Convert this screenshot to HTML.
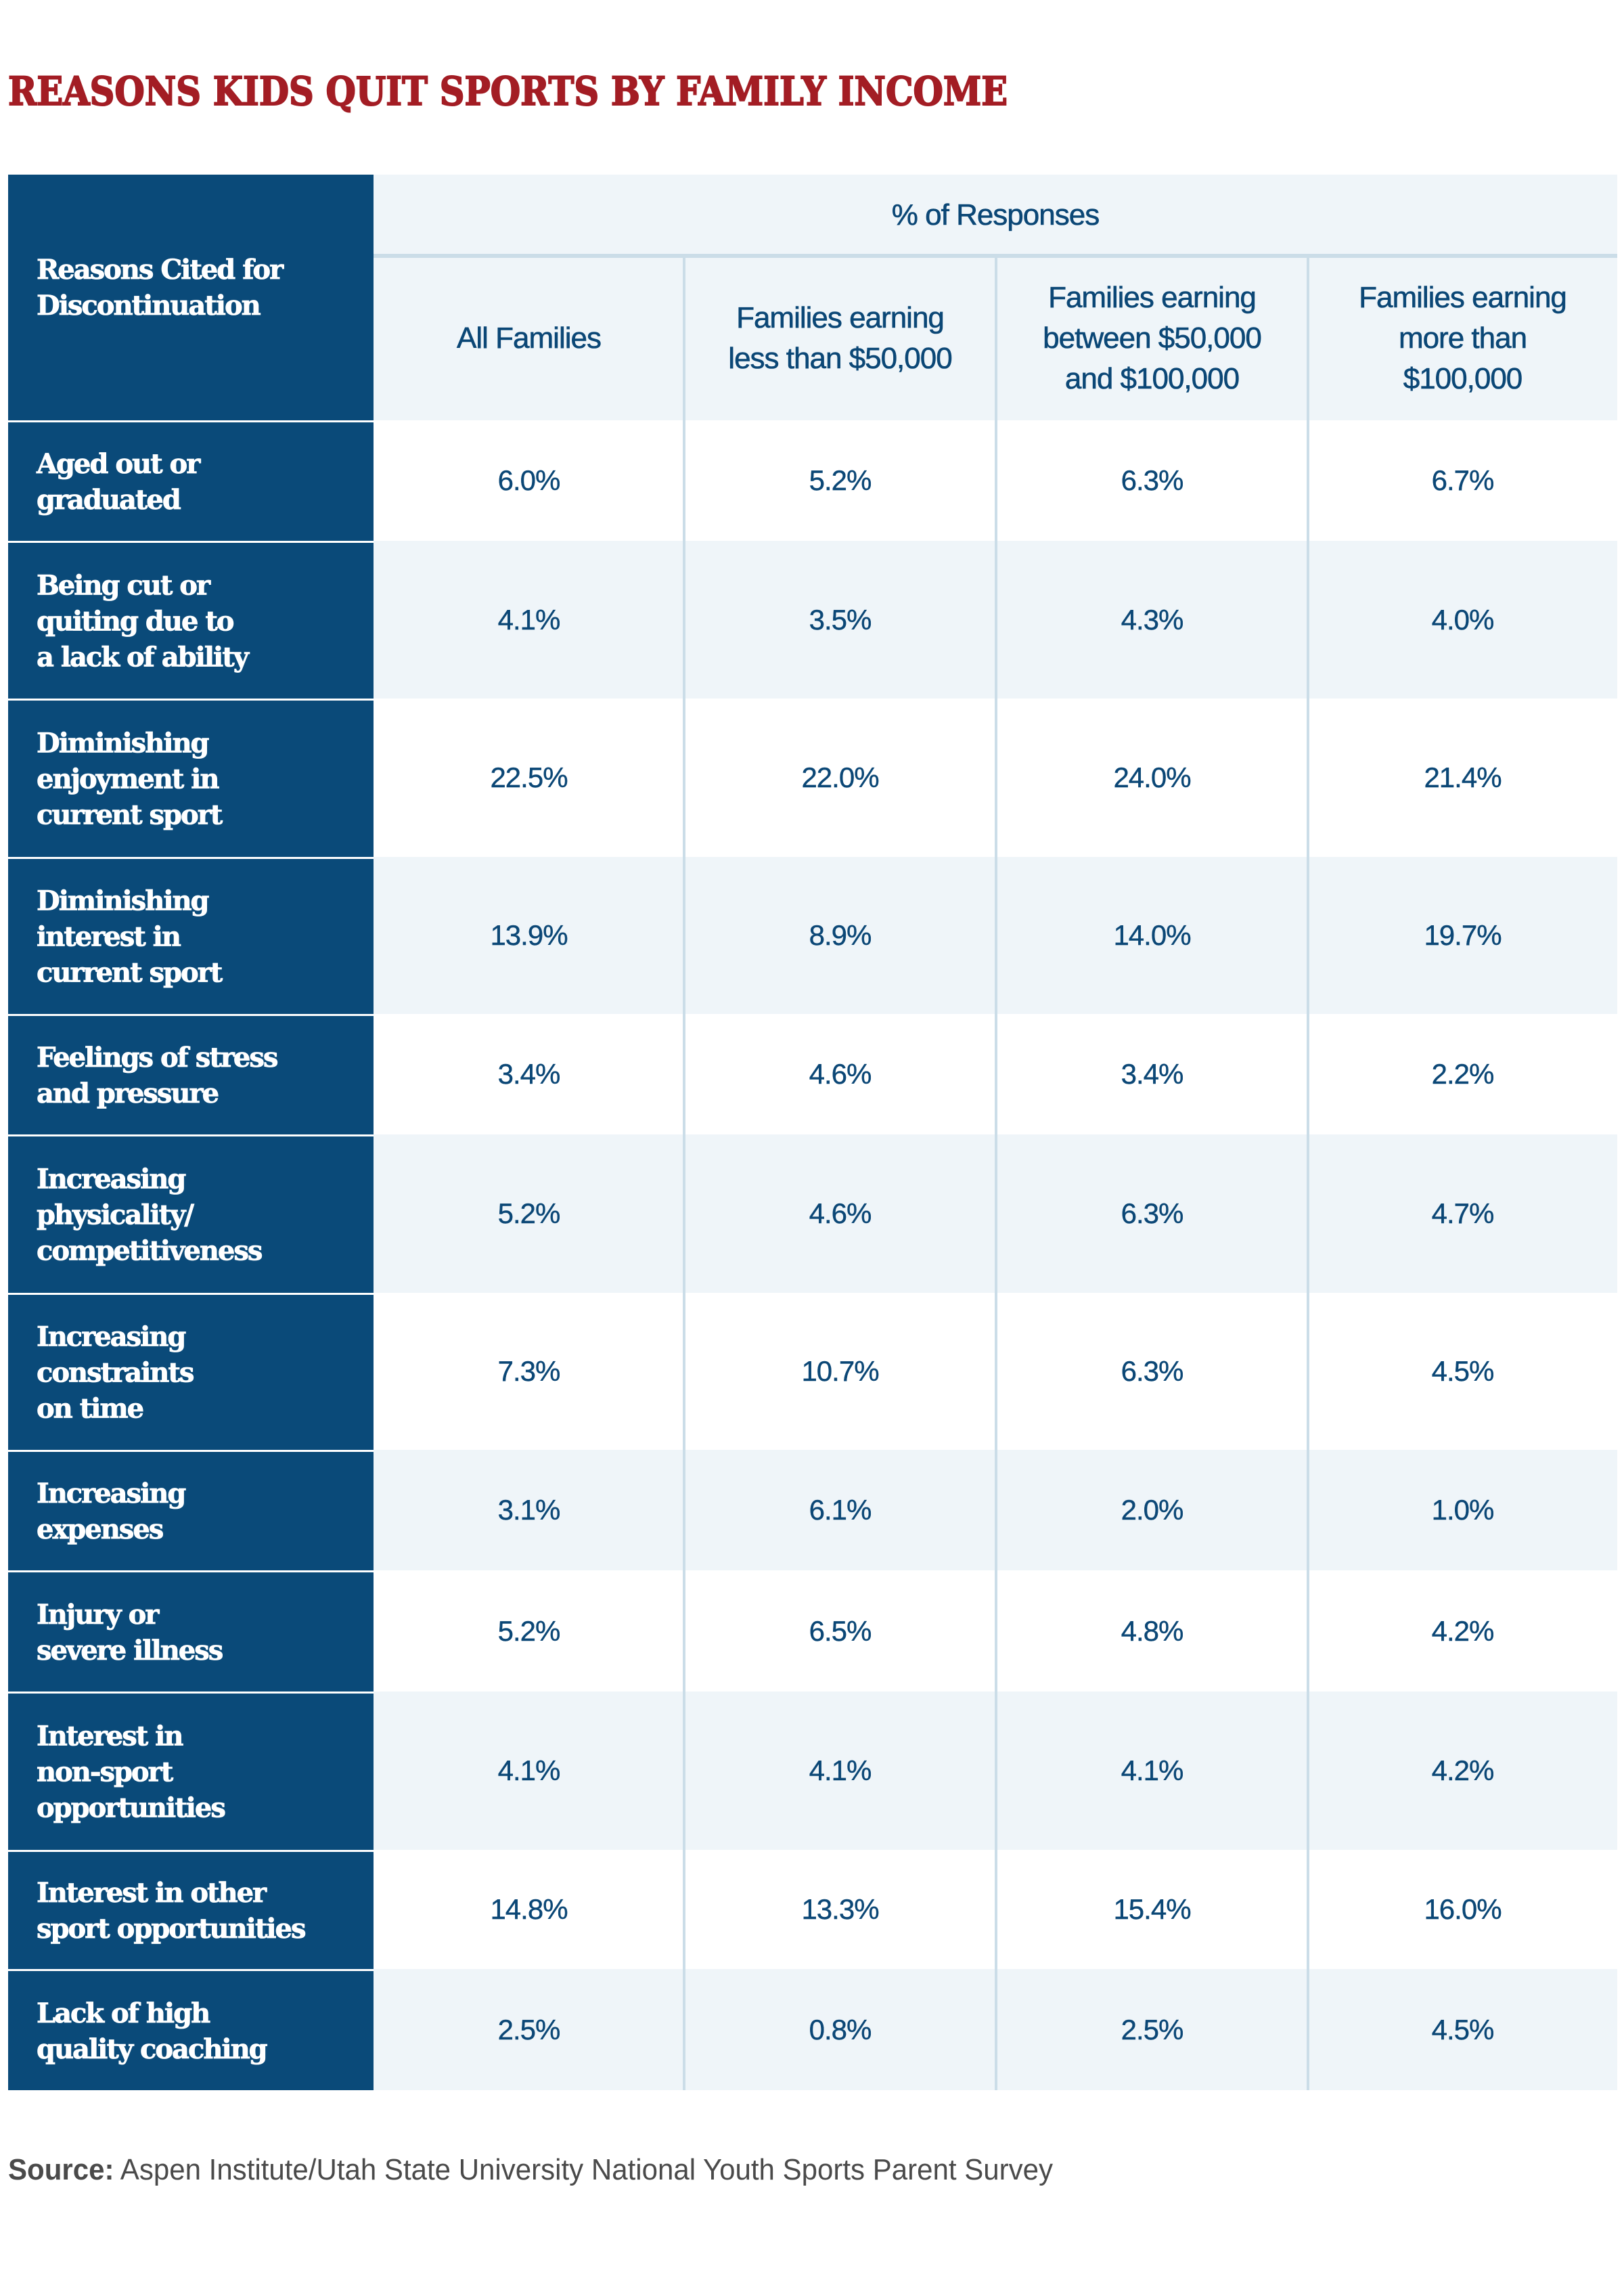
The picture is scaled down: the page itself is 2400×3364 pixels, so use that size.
<!DOCTYPE html>
<html><head><meta charset="utf-8">
<style>
html,body{margin:0;padding:0;background:#fff;}
#page{position:relative;width:2400px;height:3364px;overflow:hidden;background:#fff;font-family:"Liberation Sans",sans-serif;}
.abs{position:absolute;box-sizing:border-box;}
.lab{position:absolute;left:54px;color:#fff;font-family:"DejaVu Serif","Liberation Serif",serif;font-weight:bold;font-size:40px;line-height:53px;letter-spacing:-2px;white-space:nowrap;transform:translateY(-50%);-webkit-text-stroke:0.8px #fff;}
.val{position:absolute;color:#0b4776;font-size:42px;text-align:center;transform:translate(-50%,-50%);white-space:nowrap;letter-spacing:-1px;-webkit-text-stroke:0.4px #0b4776;}
.hdr{position:absolute;color:#0b4776;font-size:44px;line-height:60px;text-align:center;transform:translate(-50%,-50%);white-space:nowrap;letter-spacing:-1px;-webkit-text-stroke:0.6px #0b4776;}
</style></head>
<body>
<div id="page">
<svg class="abs" style="left:0;top:0" width="2400" height="200">
<text x="12" y="155" font-family="DejaVu Serif, Liberation Serif, serif" font-weight="bold" font-size="58" fill="#a31d24" stroke="#a31d24" stroke-width="2" textLength="1477" lengthAdjust="spacingAndGlyphs">REASONS KIDS QUIT SPORTS BY FAMILY INCOME</text>
</svg>
<div id="table" class="abs" style="left:0;top:0;width:2400px;height:3364px"></div>
<svg class="abs" style="left:0;top:3150px" width="2400" height="120">
<text x="12" y="70" font-family="Liberation Sans, sans-serif" font-size="44" fill="#4a4a4a" textLength="1544" lengthAdjust="spacingAndGlyphs"><tspan font-weight="bold">Source:</tspan> Aspen Institute/Utah State University National Youth Sports Parent Survey</text>
</svg>
</div>
<script>
var reasons = [
 ["Aged out or","graduated"],
 ["Being cut or","quiting due to","a lack of ability"],
 ["Diminishing","enjoyment in","current sport"],
 ["Diminishing","interest in","current sport"],
 ["Feelings of stress","and pressure"],
 ["Increasing","physicality/","competitiveness"],
 ["Increasing","constraints","on time"],
 ["Increasing","expenses"],
 ["Injury or","severe illness"],
 ["Interest in","non-sport","opportunities"],
 ["Interest in other","sport opportunities"],
 ["Lack of high","quality coaching"]
];
var columns = [
 ["All Families"],
 ["Families earning","less than $50,000"],
 ["Families earning","between $50,000","and $100,000"],
 ["Families earning","more than","$100,000"]
];
var allFamilies = [6.0,4.1,22.5,13.9,3.4,5.2,7.3,3.1,5.2,4.1,14.8,2.5];
var under50k = [5.2,3.5,22.0,8.9,4.6,4.6,10.7,6.1,6.5,4.1,13.3,0.8];
var mid50to100k = [6.3,4.3,24.0,14.0,3.4,6.3,6.3,2.0,4.8,4.1,15.4,2.5];
var over100k = [6.7,4.0,21.4,19.7,2.2,4.7,4.5,1.0,4.2,4.2,16.0,4.5];
var series = [allFamilies, under50k, mid50to100k, over100k];

var T = document.getElementById('table');
var rowEdges = [621,799,1032,1266,1498,1676,1910,2142,2320,2499,2733,2909,3088];
var colEdges = [552,1011,1472,1933,2390];
var LEFT = 12, TOP = 258, BAND = 378;
function box(x,y,w,h,bg){var d=document.createElement('div');d.className='abs';d.style.left=x+'px';d.style.top=y+'px';d.style.width=w+'px';d.style.height=h+'px';d.style.background=bg;T.appendChild(d);return d;}

var hb = box(colEdges[0],TOP,colEdges[4]-colEdges[0],rowEdges[0]-TOP,'#eff5f9');


var hl = box(LEFT,TOP,colEdges[0]-LEFT,rowEdges[0]-TOP,'#0a4a79');


var hlt = document.createElement('div');hlt.className='lab';hlt.style.top=((TOP+rowEdges[0])/2-15)+'px';hlt.innerHTML='Reasons Cited for<br>Discontinuation';


T.appendChild(hlt);
var pr = document.createElement('div');pr.className='hdr';pr.style.left=((colEdges[0]+colEdges[4])/2)+'px';pr.style.top=((TOP+BAND)/2)+'px';pr.textContent='% of Responses';


T.appendChild(pr);
var bl = box(colEdges[0],BAND-3,colEdges[4]-colEdges[0],6,'#cbdde8');



columns.forEach(function(c,i){
 var h=document.createElement('div');h.className='hdr';
 h.style.left=((colEdges[i]+colEdges[i+1])/2)+'px';h.style.top=((BAND+rowEdges[0])/2)+'px';
 h.innerHTML=c.join('<br>');
 
 
 T.appendChild(h);
});

reasons.forEach(function(r,ri){
 var y0=rowEdges[ri], y1=rowEdges[ri+1];
 var bg = box(colEdges[0],y0,colEdges[4]-colEdges[0],y1-y0,ri%2?'#eff5f9':'#ffffff');
 
 
 var lc = box(LEFT,y0+3,colEdges[0]-LEFT,y1-y0-3,'#0a4a79');
 
 
 var l=document.createElement('div');l.className='lab';l.style.top=((y0+y1)/2+2)+'px';l.innerHTML=r.join('<br>');
 
 
 T.appendChild(l);
 series.forEach(function(s,ci){
  var v=document.createElement('div');v.className='val';
  v.style.left=((colEdges[ci]+colEdges[ci+1])/2)+'px';v.style.top=((y0+y1)/2)+'px';
  v.textContent=s[ri].toFixed(1)+'%';
  
  
  T.appendChild(v);
 });
});
for (var k=1;k<4;k++){
 var sep = box(colEdges[k]-2,BAND,4,rowEdges[rowEdges.length-1]-BAND,'#cbdde8');
 
 
}
</script>
</body></html>
